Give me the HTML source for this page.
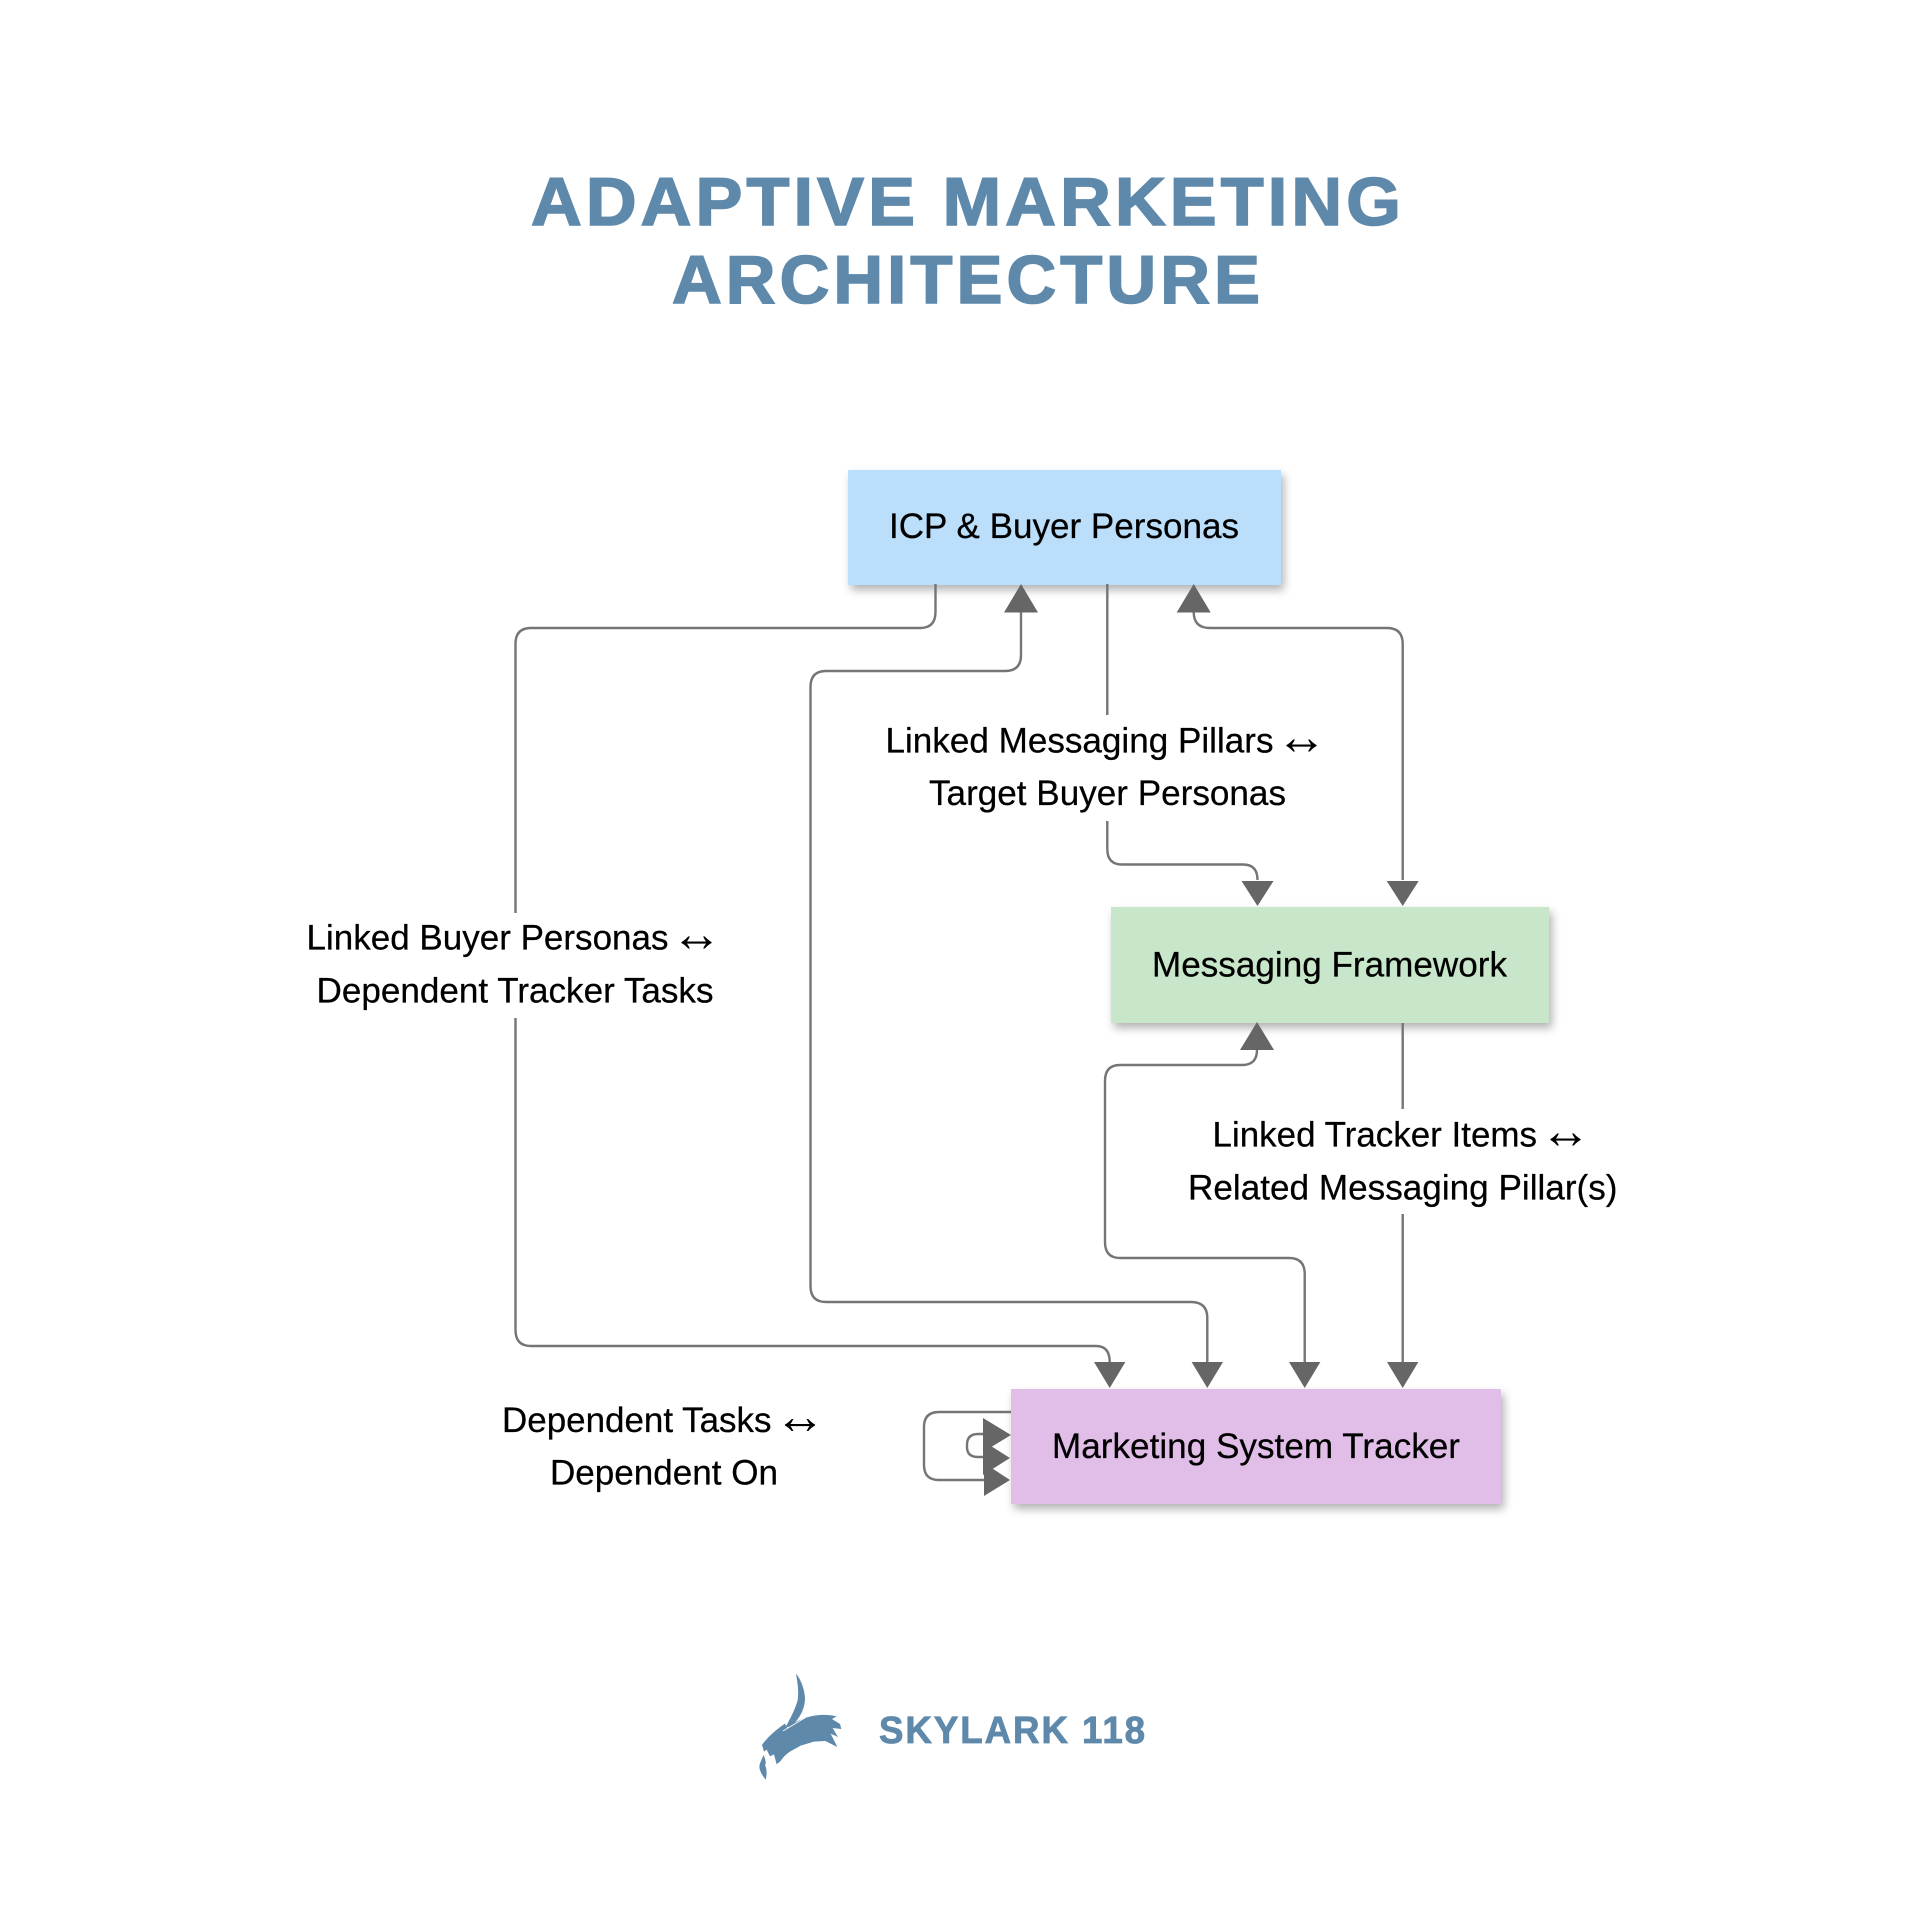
<!DOCTYPE html>
<html lang="en">
<head>
<meta charset="utf-8">
<title>Adaptive Marketing Architecture</title>
<style>
html,body{margin:0;padding:0;background:#fff}
svg{display:block}
.t{font-family:"Liberation Sans",sans-serif;font-size:35.5px;fill:#000;stroke:#000;stroke-width:.25}
.r{font-family:"Liberation Sans",sans-serif;font-size:51px;fill:#000}
.h{font-family:"Liberation Sans",sans-serif;font-weight:700;fill:#5e89ab;stroke:#5e89ab}
.l{fill:none;stroke:#757575;stroke-width:2.4}
.a{fill:#666}
</style>
</head>
<body>
<svg xmlns="http://www.w3.org/2000/svg" width="1920" height="1920" viewBox="0 0 1920 1920">
<defs>
<filter id="s" x="-10%" y="-15%" width="120%" height="135%">
<feDropShadow dx="3" dy="5" stdDeviation="4.5" flood-color="#000" flood-opacity=".3"/>
</filter>
</defs>
<rect width="1920" height="1920" fill="#fff"/>

<text class="h" x="531" y="225" font-size="68" stroke-width="1.6" letter-spacing="4" textLength="874" lengthAdjust="spacingAndGlyphs">ADAPTIVE MARKETING</text>
<text class="h" x="672" y="303" font-size="68" stroke-width="1.6" letter-spacing="4" textLength="592" lengthAdjust="spacingAndGlyphs">ARCHITECTURE</text>

<rect x="848" y="470" width="433" height="115" fill="#bbdefb" filter="url(#s)"/>
<rect x="1111" y="907" width="438" height="116" fill="#c8e6c9" filter="url(#s)"/>
<rect x="1011" y="1389" width="490" height="115" fill="#e1bee7" filter="url(#s)"/>

<path class="l" d="M935.5 584V612Q935.5 628 920 628H531Q515.5 628 515.5 644V913"/>
<path class="l" d="M515.5 1018V1330Q515.5 1346 531 1346H1096Q1109.7 1346 1109.7 1362"/>
<path class="l" d="M1021 612V655Q1021 671 1005 671H826Q810.5 671 810.5 687V1286Q810.5 1302 826 1302H1191Q1207.3 1302 1207.3 1318V1362"/>
<path class="l" d="M1193.7 612Q1193.7 628 1210 628H1387Q1402.7 628 1402.7 644V880"/>
<path class="l" d="M1107.3 584V715M1107.3 821V849Q1107.3 864.5 1122 864.5H1243Q1257.5 864.5 1257.5 880"/>
<path class="l" d="M1402.7 1023V1109M1402.7 1214V1362"/>
<path class="l" d="M1257 1050Q1257 1065 1242 1065H1120Q1105 1065 1105 1081V1242Q1105 1258 1120 1258H1289Q1304.7 1258 1304.7 1274V1362"/>
<path class="l" d="M1011 1412H939Q924 1412 924 1427V1465Q924 1480 939 1480H985"/>
<path class="l" d="M985 1434H978Q967 1434 967 1445V1447Q967 1457 978 1457H985"/>

<polygon class="a" points="1021,584 1004,612.5 1038,612.5"/>
<polygon class="a" points="1193.7,584 1176.7,612.5 1210.7,612.5"/>
<polygon class="a" points="1257.5,906 1241.5,881 1273.5,881"/>
<polygon class="a" points="1402.7,906 1386.7,881 1418.7,881"/>
<polygon class="a" points="1257,1022 1240,1050 1274,1050"/>
<polygon class="a" points="1109.7,1388 1094,1362 1125.4,1362"/>
<polygon class="a" points="1207.3,1388 1191.6,1362 1223,1362"/>
<polygon class="a" points="1304.7,1388 1289,1362 1320.4,1362"/>
<polygon class="a" points="1402.7,1388 1387,1362 1418.4,1362"/>
<polygon class="a" points="1011,1435 983,1418 983,1452"/>
<polygon class="a" points="1010,1458 983,1441 983,1475"/>
<polygon class="a" points="1010,1480 984,1463 984,1496"/>

<text class="t" x="889" y="538" textLength="350" lengthAdjust="spacingAndGlyphs">ICP &amp; Buyer Personas</text>
<text class="t" x="1152" y="976.5" textLength="355" lengthAdjust="spacingAndGlyphs">Messaging Framework</text>
<text class="t" x="1052" y="1458" textLength="408" lengthAdjust="spacingAndGlyphs">Marketing System Tracker</text>

<text class="t" x="885.5" y="752.5" textLength="388" lengthAdjust="spacingAndGlyphs">Linked Messaging Pillars</text>
<text class="r" x="1276" y="754">↔</text>
<text class="t" x="929" y="805" textLength="357" lengthAdjust="spacingAndGlyphs">Target Buyer Personas</text>

<text class="t" x="306.5" y="949.5" textLength="362" lengthAdjust="spacingAndGlyphs">Linked Buyer Personas</text>
<text class="r" x="671" y="951">↔</text>
<text class="t" x="316.5" y="1002.5" textLength="397" lengthAdjust="spacingAndGlyphs">Dependent Tracker Tasks</text>

<text class="t" x="1212.5" y="1146.5" textLength="324.5" lengthAdjust="spacingAndGlyphs">Linked Tracker Items</text>
<text class="r" x="1540" y="1148">↔</text>
<text class="t" x="1188" y="1199.5" textLength="429.5" lengthAdjust="spacingAndGlyphs">Related Messaging Pillar(s)</text>

<text class="t" x="502" y="1432" textLength="269.5" lengthAdjust="spacingAndGlyphs">Dependent Tasks</text>
<text class="r" x="774.5" y="1433.5">↔</text>
<text class="t" x="550" y="1484.5" textLength="228" lengthAdjust="spacingAndGlyphs">Dependent On</text>

<g transform="translate(750 1665) scale(.3333)" fill="#5e89ab">
<path d="M138 26C150 40 164 70 165 100C165 132 148 162 124 184L106 188C122 158 137 130 143 105C147 78 142 50 138 26Z"/>
<path d="M105 176L112 190L130 176C158 156 212 142 260 154L246 162L270 177L274 192L248 189L264 216L242 206L262 246L226 228L192 230L152 242L120 260C108 268 100 276 92 288L80 298L72 268L60 274L50 254L42 260L36 240C50 220 75 196 105 176Z"/>
<path d="M41 270C32 290 26 300 29 312C33 326 41 336 47 344C52 326 50 310 45 300C50 294 46 284 41 270Z"/>
</g>
<path d="M783 1731L808 1716" stroke="#fff" stroke-width=".8" fill="none"/>

<text class="h" x="879" y="1743" font-size="38" stroke-width=".8" letter-spacing="2" textLength="268" lengthAdjust="spacingAndGlyphs">SKYLARK 118</text>
</svg>
</body>
</html>
